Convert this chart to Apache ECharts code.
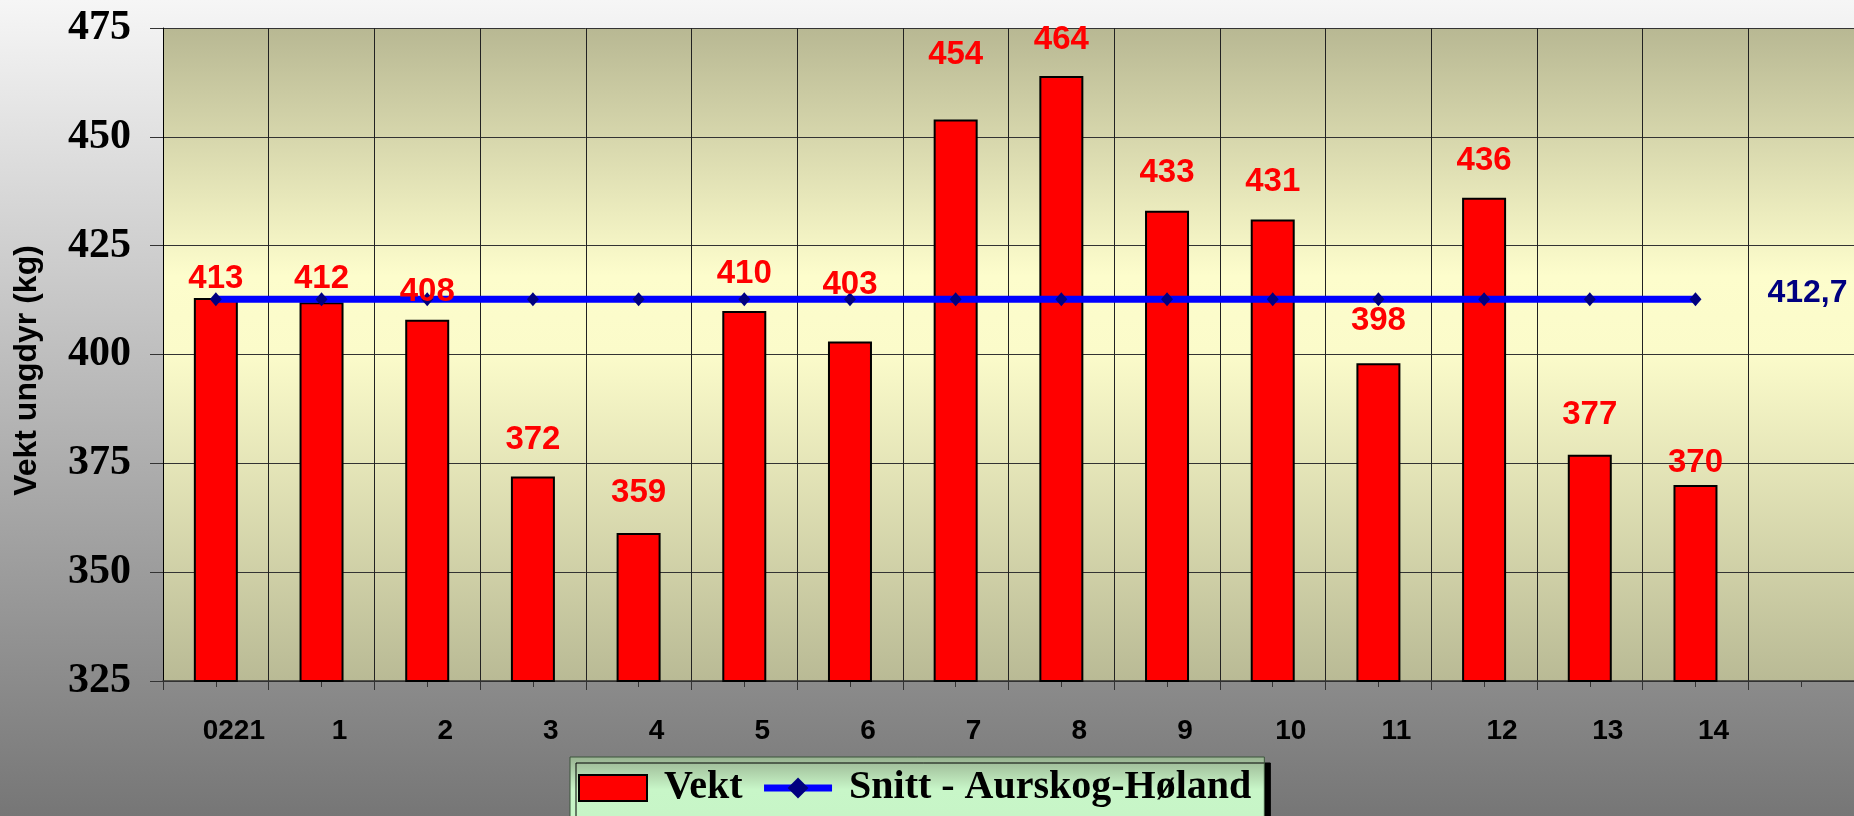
<!DOCTYPE html>
<html>
<head>
<meta charset="utf-8">
<title>Vekt ungdyr</title>
<script src="https://cdn.jsdelivr.net/npm/echarts@6/dist/echarts.min.js"></script>
<style>
html, body { margin: 0; padding: 0; overflow: hidden; }
#chart { width: 1854px; height: 816px; }
</style>
</head>
<body>
<div id="chart"></div>
<script>
// kategorier (siste er tom)
var kategorier = ['0221', '1', '2', '3', '4', '5', '6', '7', '8', '9', '10', '11', '12', '13', '14', ''];
// vekt per besetning
var vekt = [413, 412, 408, 372, 359, 410, 403, 454, 464, 433, 431, 398, 436, 377, 370];
// snitt Aurskog-Høland
var snitt = [412.7, 412.7, 412.7, 412.7, 412.7, 412.7, 412.7, 412.7, 412.7, 412.7, 412.7, 412.7, 412.7, 412.7, 412.7];
// y-akse
var yMin = 325, yMax = 475, yStep = 25;

// avstand fra stolpetopp til etikett (px), slik etikettene står i originalen
var etikettAvstand = [3, 7, 11, 20, 24, 21, 40, 48, 19, 21, 21, 26, 20, 23, 6];

var chart = echarts.init(document.getElementById('chart'));

var etikettData = vekt.map(function (v, i) {
    return { value: v, label: { distance: etikettAvstand[i] } };
});

var option = {
    animation: false,
    backgroundColor: {
        type: 'linear', x: 0, y: 0, x2: 0, y2: 1,
        colorStops: [{offset: 0, color: '#f6f6f6'}, {offset: 1, color: '#767676'}]
    },
    grid: {
        left: 163, top: 28, width: 1697, height: 653,
        show: true,
        borderWidth: 0,
        backgroundColor: {
            type: 'linear', x: 0, y: 0, x2: 0, y2: 1,
            colorStops: [
                {offset: 0, color: '#b8b893'},
                {offset: 0.38, color: '#fdfdcc'},
                {offset: 0.5, color: '#fbfbca'},
                {offset: 1, color: '#b9ba95'}
            ]
        }
    },
    legend: {
        left: 570, top: 757,
        data: [
            { name: 'Vekt', icon: 'rect', itemStyle: { color: '#ff0000', borderColor: '#000', borderWidth: 2 } },
            { name: 'Snitt - Aurskog-Høland', lineStyle: { color: '#0000ff', width: 7 }, itemStyle: { color: '#000080' } }
        ],
        itemWidth: 68, itemHeight: 26, itemGap: 18,
        padding: [11, 13, 30, 8],
        backgroundColor: {
            type: 'linear', x: 0, y: 0, x2: 0, y2: 1,
            colorStops: [{offset: 0, color: '#98b290'}, {offset: 0.4, color: '#c8f6c8'}, {offset: 1, color: '#c6f4c6'}]
        },
        borderColor: '#3d553d', borderWidth: 1,
        shadowColor: '#000', shadowBlur: 0, shadowOffsetX: 6, shadowOffsetY: 6,
        textStyle: {
            fontFamily: 'Liberation Serif', fontWeight: 'bold', fontSize: 40, color: '#000',
            padding: [0, 0, 0, 12]
        },
        selectedMode: false
    },
    xAxis: [
        {
            type: 'category',
            data: kategorier,
            axisLine: { show: true, lineStyle: { color: '#333', width: 1.5 } },
            axisTick: { show: true, length: 9, lineStyle: { color: '#333' } },
            axisLabel: {
                fontFamily: 'Liberation Sans', fontWeight: 'bold', fontSize: 28, color: '#000',
                margin: 36, padding: [0, 0, 0, 36], interval: 0
            },
            splitLine: { show: true, lineStyle: { color: '#222', width: 1 } }
        },
        {
            // korte streker midt i hver kategori
            type: 'category',
            data: kategorier,
            position: 'bottom',
            axisLine: { show: false },
            axisTick: { show: true, alignWithLabel: true, length: 6, interval: 0, lineStyle: { color: '#333' } },
            axisLabel: { show: false },
            splitLine: { show: false }
        }
    ],
    yAxis: {
        type: 'value',
        min: yMin, max: yMax, interval: yStep,
        name: 'Vekt ungdyr (kg)',
        nameLocation: 'middle',
        nameGap: 120,
        nameTextStyle: {
            fontFamily: 'Liberation Sans', fontWeight: 'bold', fontSize: 32, color: '#000',
            padding: [0, 32, 0, 0]
        },
        axisLine: { show: true, lineStyle: { color: '#000', width: 1 } },
        axisTick: { show: true, length: 13, lineStyle: { color: '#333' } },
        axisLabel: {
            fontFamily: 'Liberation Serif', fontWeight: 'bold', fontSize: 42, color: '#000',
            margin: 32
        },
        splitLine: { show: true, lineStyle: { color: '#333', width: 1 } }
    },
    series: [
        {
            name: 'Vekt',
            type: 'bar',
            data: vekt,
            barWidth: 44,
            barGap: '-100%',
            z: 2,
            itemStyle: { color: '#ff0000', borderColor: '#000', borderWidth: 2 }
        },
        {
            name: 'Snitt - Aurskog-Høland',
            type: 'line',
            data: snitt,
            z: 3,
            symbol: 'diamond',
            symbolSize: [12, 14],
            lineStyle: { color: '#0000ff', width: 7 },
            itemStyle: { color: '#000080' },
            label: {
                show: true,
                position: 'right',
                distance: 66,
                offset: [0, -6],
                fontFamily: 'Liberation Sans', fontWeight: 'bold', fontSize: 32, color: '#000080',
                formatter: function (p) {
                    return p.dataIndex === snitt.length - 1 ? String(p.value).replace('.', ',') : '';
                }
            }
        },
        {
            // etiketter over streken
            name: 'etiketter',
            type: 'bar',
            data: etikettData,
            barWidth: 44,
            barGap: '-100%',
            z: 5,
            silent: true,
            itemStyle: { color: 'rgba(0,0,0,0)' },
            label: {
                show: true,
                position: 'top',
                fontFamily: 'Liberation Sans', fontWeight: 'bold', fontSize: 33, color: '#ff0000'
            }
        }
    ]
};

chart.setOption(option);
window.addEventListener('resize', function () { chart.resize(); });
</script>
</body>
</html>
